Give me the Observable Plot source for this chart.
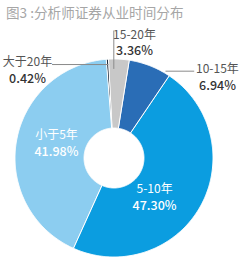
<!DOCTYPE html>
<html><head><meta charset="utf-8">
<script src="https://cdn.jsdelivr.net/npm/d3@7"></script>
<script src="https://cdn.jsdelivr.net/npm/@observablehq/plot@0.6"></script>
<style>
body{margin:0;background:#fff;font-family:"Noto Sans CJK SC","Noto Sans",sans-serif;}
#title{height:24px;line-height:25px;padding-left:6px;font-size:13.6px;color:#a6a6a6;white-space:nowrap;}
</style></head><body>
<div id="title"></div>
<div id="chart"></div>
<script>
// ---- data ----
const titleText = "图3 :分析师证券从业时间分布";
const categories = ["大于20年", "15-20年", "10-15年", "5-10年", "小于5年"];
const shares = [0.42, 3.36, 6.94, 47.30, 41.98];
const shareLabels = ["0.42%", "3.36%", "6.94%", "47.30%", "41.98%"];

// ---- styles / layout ----
const sliceColors = ["#1d2a3a", "#c8c8c8", "#2a6db6", "#0b9de0", "#8ccdf0"];
const startDeg = -4.5;
const innerRatio = 0.303;
// label positions in radius units (centre = 0,0)
const labelLayout = [
  {x: -0.874, y1: 0.97, y2: 0.795, nameFill: "#555", pctFill: "#333"},
  {x: 0.207, y1: 1.245, y2: 1.076, nameFill: "#555", pctFill: "#333"},
  {x: 1.045, y1: 0.895, y2: 0.727, nameFill: "#555", pctFill: "#333"},
  {x: 0.41, y1: -0.31, y2: -0.48, nameFill: "#fff", pctFill: "#fff"},
  {x: -0.581, y1: 0.235, y2: 0.064, nameFill: "#fff", pctFill: "#fff"}
];
const leaders = [
  {x1: -0.626, y1: 0.944, x2: -0.056, y2: 0.944},
  {x1: -0.002, y1: 1.288, x2: -0.002, y2: 0.9},
  {x1: 0.52, y1: 0.877, x2: 0.81, y2: 0.877}
];

document.getElementById("title").textContent = titleText;

const arcs = d3.pie().sort(null).value(d => d)
  .startAngle(startDeg * Math.PI / 180)
  .endAngle((startDeg + 360) * Math.PI / 180)(shares);

const rows = [];
arcs.forEach((a, i) => {
  const n = Math.max(2, Math.ceil((a.endAngle - a.startAngle) / 0.01));
  for (let k = 0; k <= n; k++) {
    const t = a.startAngle + (a.endAngle - a.startAngle) * k / n;
    rows.push({cat: categories[i], x: Math.sin(t), y: Math.cos(t)});
  }
  for (let k = n; k >= 0; k--) {
    const t = a.startAngle + (a.endAngle - a.startAngle) * k / n;
    rows.push({cat: categories[i], x: innerRatio * Math.sin(t), y: innerRatio * Math.cos(t)});
  }
});

const labels = categories.map((c, i) => ({name: c, pct: shareLabels[i], ...labelLayout[i]}));

const chart = Plot.plot({
  width: 245, height: 242,
  marginLeft: 14.5, marginRight: 32.5, marginTop: 34.5, marginBottom: 9.5,
  x: {domain: [-1, 1], axis: null},
  y: {domain: [-1, 1], axis: null},
  color: {domain: categories, range: sliceColors},
  style: {fontFamily: '"Noto Sans CJK SC","Noto Sans",sans-serif', background: "white", overflow: "visible"},
  marks: [
    Plot.line(rows, {x: "x", y: "y", z: "cat", fill: "cat", stroke: "white", strokeWidth: 1, curve: "linear-closed"}),
    Plot.link(leaders, {x1: "x1", y1: "y1", x2: "x2", y2: "y2", stroke: "#8a8a8a", strokeWidth: 1}),
    Plot.text(labels, {x: "x", y: "y1", text: "name", fill: d => d.nameFill, fontSize: 12, textAnchor: "middle"}),
    Plot.text(labels, {x: "x", y: "y2", text: "pct", fill: d => d.pctFill, fontSize: 12.5, fontWeight: 500, textAnchor: "middle"})
  ]
});
document.getElementById("chart").appendChild(chart);
</script>
</body></html>
